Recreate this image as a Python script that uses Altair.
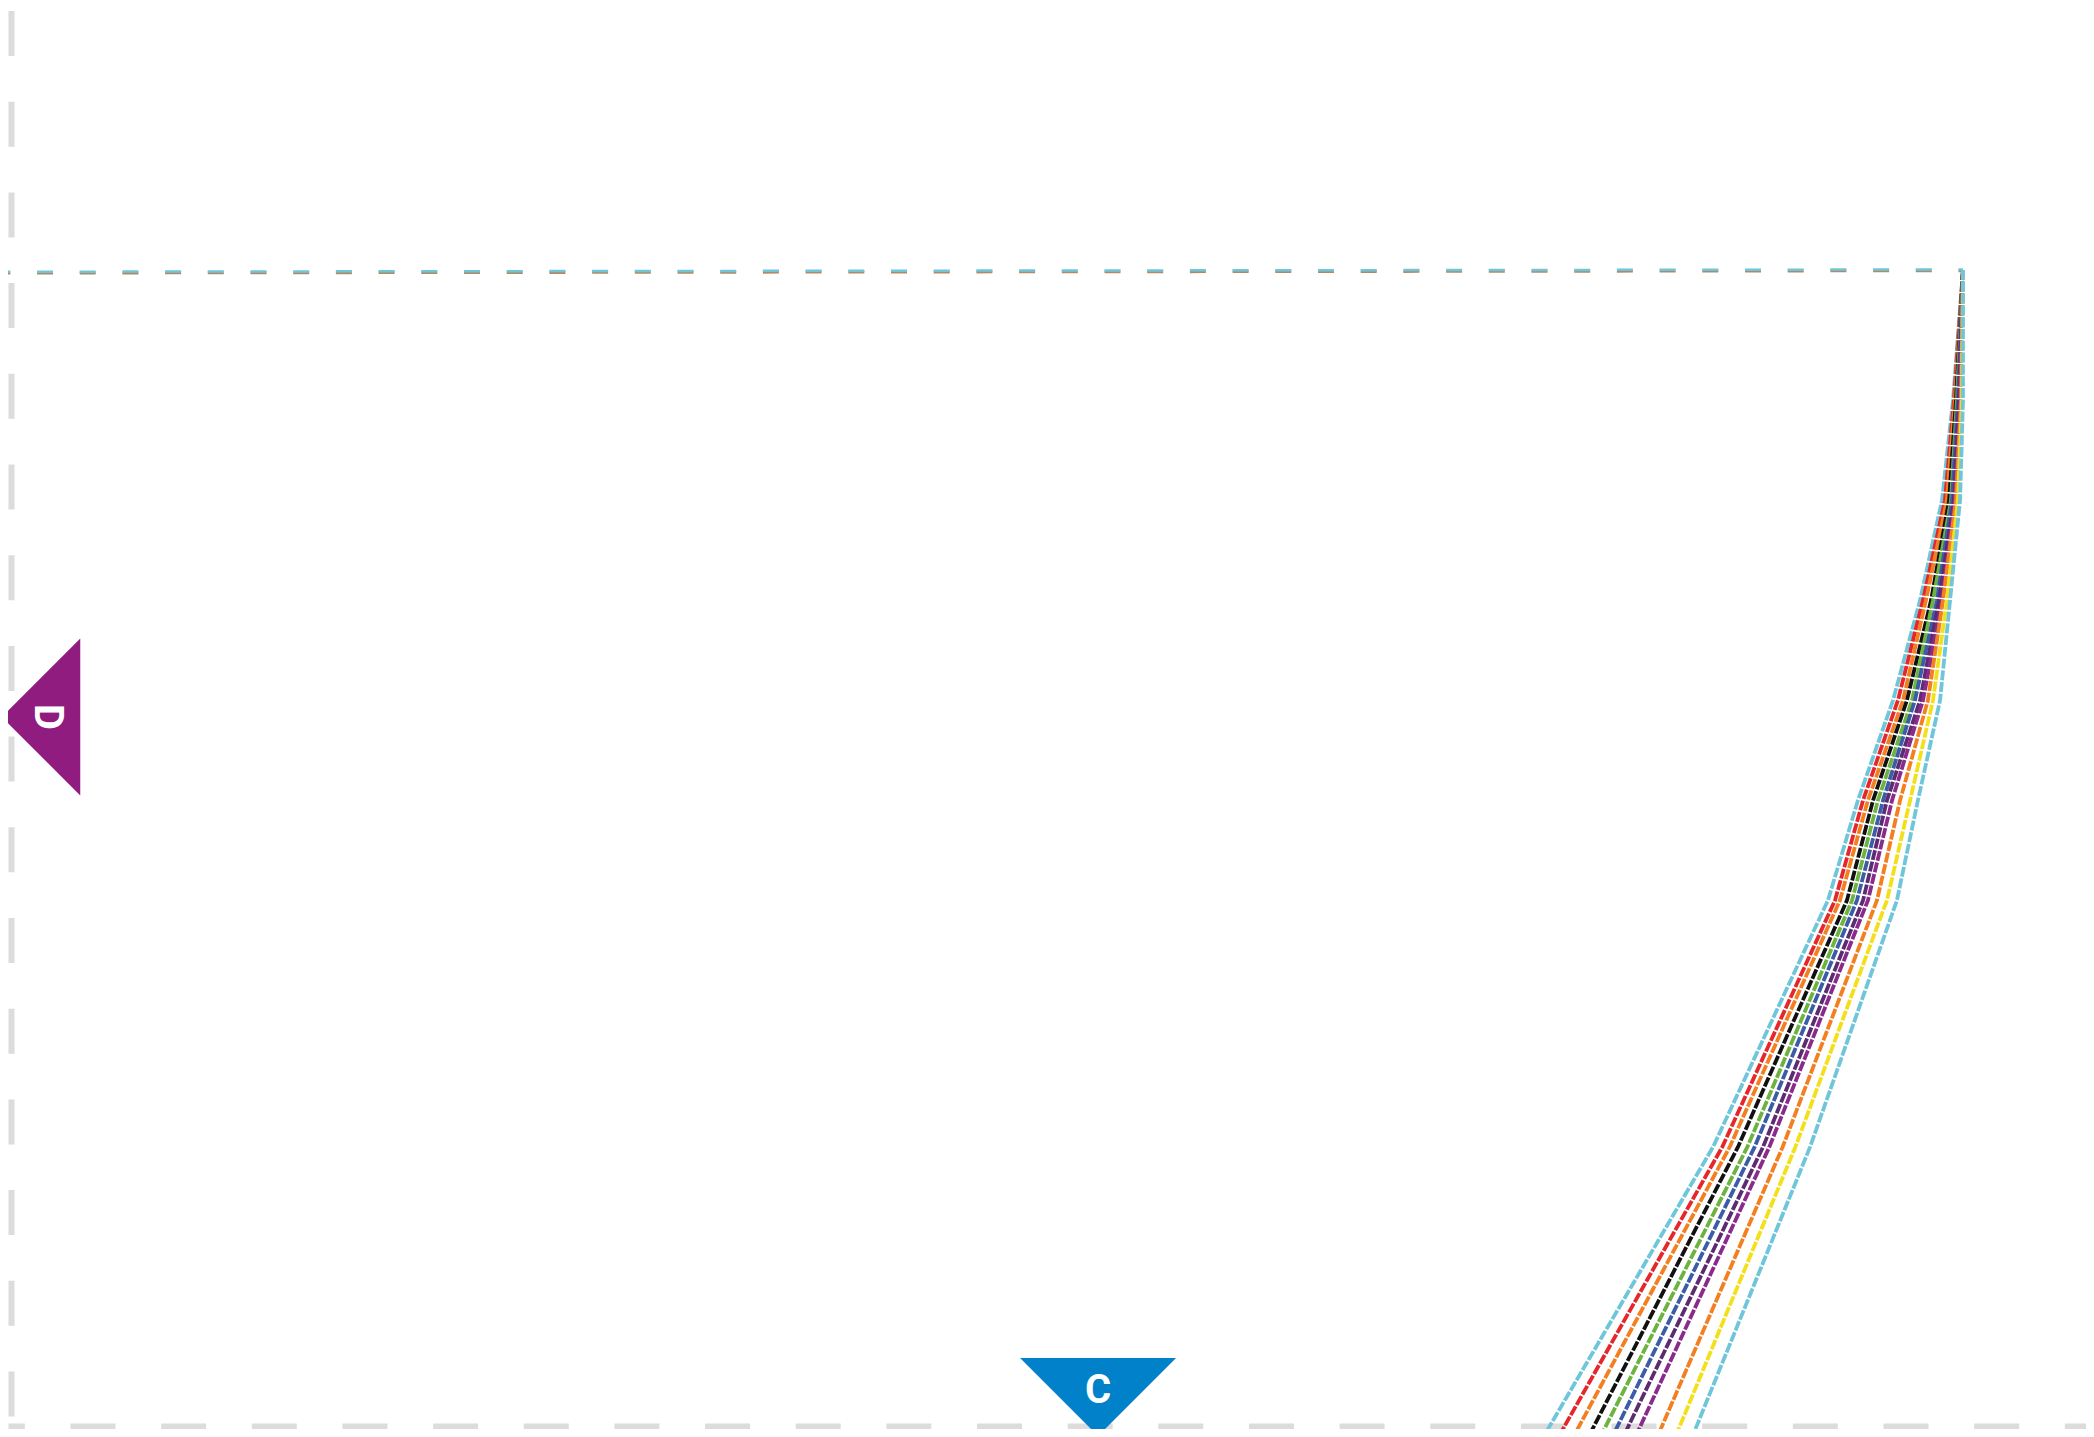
import altair as alt
import pandas as pd

# ---- data (x: 0..100 along bottom axis, y: 0..100 up the left axis)
series_names = ["cyan_a", "red", "orange_a", "black", "green", "blue",
                "plum", "purple", "orange_b", "yellow", "cyan_b"]
series_colors = ["#6fc6da", "#e5262b", "#f47f20", "#111111", "#6cb33f", "#3b5ca8",
                 "#5c2b72", "#8a2b8c", "#f47f20", "#f3e01b", "#6fc6da"]

curve_y = [100, 88.8, 80.2, 71.6, 63.0, 54.4, 45.8, 24.6, -0.4]

cyan_a   = [100, 99.49, 98.93, 97.81, 96.43, 94.64, 93.11, 87.25, 78.57]
red      = [100, 99.54, 99.08, 97.96, 96.68, 94.90, 93.47, 87.72, 79.34]
orange_a = [100, 99.59, 99.18, 98.11, 96.94, 95.15, 93.72, 88.10, 80.10]
black    = [100, 99.64, 99.29, 98.37, 97.14, 95.41, 94.08, 88.52, 80.87]
green    = [100, 99.69, 99.39, 98.47, 97.40, 95.66, 94.34, 89.00, 81.48]
blue     = [100, 99.74, 99.44, 98.67, 97.55, 95.92, 94.59, 89.37, 82.09]
plum     = [100, 99.80, 99.54, 98.78, 97.81, 96.12, 94.90, 89.80, 82.65]
purple   = [100, 99.85, 99.59, 98.93, 97.96, 96.38, 95.15, 90.12, 83.27]
orange_b = [100, 99.90, 99.64, 98.98, 98.21, 96.79, 95.61, 90.80, 84.39]
yellow   = [100, 99.95, 99.74, 99.18, 98.47, 97.30, 96.12, 91.45, 85.31]
cyan_b   = [100, 100.0, 99.85, 99.34, 98.83, 97.70, 96.63, 92.20, 86.17]

curve_x = [cyan_a, red, orange_a, black, green, blue, plum, purple, orange_b, yellow, cyan_b]

top_x = [0, 100]
top_y_cyan = [99.85, 100.05]
top_y_under = [99.74, 99.94]

marker_labels = ["C", "D"]
marker_x = [55.87, 0]
marker_y = [0, 61.57]
marker_colors = ["#0081c9", "#901c80"]

# ---- tables
rows = []
for name, xs in zip(series_names, curve_x):
    for i, (xv, yv) in enumerate(zip(xs, curve_y)):
        rows.append({"series": name, "step": i, "x": xv, "y": yv})
curves = pd.DataFrame(rows)

top_cyan = pd.DataFrame({"x": top_x, "y": top_y_cyan})
top_under = pd.DataFrame({"x": top_x, "y": top_y_under})
markers = pd.DataFrame({"label": marker_labels, "x": marker_x, "y": marker_y, "c": marker_colors})

W, H = 2078, 1421
xs = alt.Scale(domain=[0.255, 106.276], nice=False, zero=False)
ys = alt.Scale(domain=[0.344, 122.53], nice=False, zero=False)

x_axis = alt.Axis(domain=True, domainColor="#dcdcdc", domainWidth=6,
                  domainDash=[45, 45.65], domainDashOffset=28.65,
                  labels=False, ticks=False, grid=False, title=None, offset=-3)
y_axis = alt.Axis(domain=True, domainColor="#dcdcdc", domainWidth=6,
                  domainDash=[45, 45.7], domainDashOffset=77.7,
                  labels=False, ticks=False, grid=False, title=None, offset=-3)

under = alt.Chart(top_under).mark_line(strokeWidth=3, strokeDash=[16, 26.7],
                                       strokeDashOffset=8.7, color="#b08a68").encode(
    x=alt.X("x:Q", scale=xs, axis=x_axis),
    y=alt.Y("y:Q", scale=ys, axis=y_axis),
)
top = alt.Chart(top_cyan).mark_line(strokeWidth=2.5, strokeDash=[16, 26.7],
                                    strokeDashOffset=8.7, color="#6fc6da").encode(
    x=alt.X("x:Q", scale=xs),
    y=alt.Y("y:Q", scale=ys),
)

lines = alt.Chart(curves).mark_line(strokeWidth=3.8, strokeDash=[10, 1.8]).encode(
    x=alt.X("x:Q", scale=xs),
    y=alt.Y("y:Q", scale=ys),
    color=alt.Color("series:N", scale=alt.Scale(domain=series_names, range=series_colors), legend=None),
    order=alt.Order("step:Q"),
)

c_data = markers[markers["label"] == "C"]
d_data = markers[markers["label"] == "D"]

c_tri = alt.Chart(c_data).mark_point(shape="M-1,-0.5L1,-0.5L0,0.5Z", size=24336, filled=True,
                                     opacity=1, strokeWidth=0, yOffset=-36).encode(
    x=alt.X("x:Q", scale=xs), y=alt.Y("y:Q", scale=ys),
    color=alt.Color("c:N", scale=None),
)
d_tri = alt.Chart(d_data).mark_point(shape="M0.5,-1L0.5,1L-0.5,0Z", size=24649, filled=True,
                                     opacity=1, strokeWidth=0, xOffset=38).encode(
    x=alt.X("x:Q", scale=xs), y=alt.Y("y:Q", scale=ys),
    color=alt.Color("c:N", scale=None),
)
c_txt = alt.Chart(c_data).mark_text(font="Roboto", fontWeight="bold", fontSize=40, color="white",
                                    align="center", baseline="middle", yOffset=-42).encode(
    x=alt.X("x:Q", scale=xs), y=alt.Y("y:Q", scale=ys), text="label:N",
)
d_txt = alt.Chart(d_data).mark_text(font="Roboto", fontWeight="bold", fontSize=40, color="white",
                                    align="center", baseline="middle", angle=90, xOffset=44).encode(
    x=alt.X("x:Q", scale=xs), y=alt.Y("y:Q", scale=ys), text="label:N",
)

chart = alt.layer(under, top, lines, c_tri, d_tri, c_txt, d_txt).properties(
    width=W, height=H, autosize=alt.AutoSizeParams(type="none"), padding=0,
    background="white",
).configure_view(stroke=None)

chart.save("out.html", embed_options={"renderer": "svg", "actions": False})
